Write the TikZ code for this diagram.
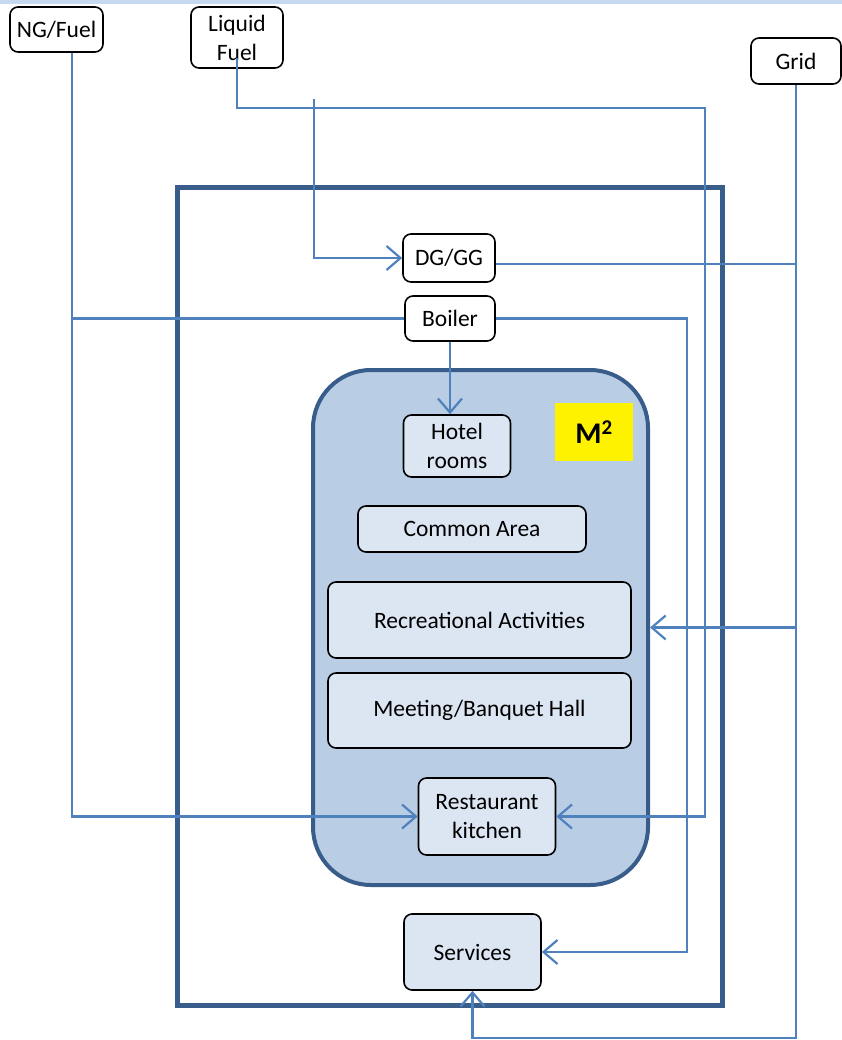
\documentclass[tikz,border=0pt]{standalone}
\usepackage{fontspec}
\setmainfont{Carlito}
\usetikzlibrary{arrows.meta}
\definecolor{conncol}{HTML}{4F81BD}
\definecolor{outercol}{HTML}{385D8A}
\definecolor{mfill}{HTML}{B9CDE5}
\definecolor{infill}{HTML}{DCE6F2}
\definecolor{topstrip}{HTML}{C6D9F1}
\tikzset{
  basebox/.style={draw=black, line width=1.6pt, rounded corners=8pt, inner sep=0pt, align=center,
    font=\fontsize{23.5}{29}\selectfont},
  srcbox/.style={basebox, fill=white},
  loadbox/.style={basebox, fill=infill},
  conn/.style={draw=conncol, line width=2.2pt},
  arr/.style={conn, -{Straight Barb[length=14pt,width=24pt]}},
}
\begin{document}
\begin{tikzpicture}[x=1pt,y=-1pt]
\useasboundingbox (0,0) rectangle (842,1040);
\fill[topstrip] (0,0) rectangle (842,4);
% outer frame
\draw[outercol, line width=5pt] (177,188) rectangle (722,1005);
% M2 area
\node[draw=outercol, fill=mfill, line width=4pt, rounded corners=58pt, minimum width=335pt, minimum height=515pt, inner sep=0pt] (m2box) at (480.5,627.5) {};
\node[fill=yellow, minimum width=78pt, minimum height=58pt, inner sep=0pt, font=\fontsize{30}{30}\selectfont\bfseries] (m2) at (594,432) {M\textsuperscript{2}};
% sources
\node[srcbox, minimum width=93pt, minimum height=45pt] (ng) at (56.5,29.5) {NG/Fuel};
\node[srcbox, minimum width=92pt, minimum height=61pt] (lf) at (237,37.5) {Liquid\\Fuel};
\node[srcbox, minimum width=90pt, minimum height=46pt] (grid) at (796,61) {Grid};
\node[srcbox, minimum width=92pt, minimum height=48pt] (dg) at (449,258) {DG/GG};
\node[srcbox, minimum width=90pt, minimum height=45pt] (boiler) at (450,318.5) {Boiler};
% loads
\node[loadbox, minimum width=107pt, minimum height=62pt] (hotel) at (457,446) {Hotel\\rooms};
\node[loadbox, minimum width=228pt, minimum height=46pt] (common) at (472,529) {Common Area};
\node[loadbox, minimum width=303pt, minimum height=76pt] (rec) at (479.5,620) {Recreational Activities};
\node[loadbox, minimum width=303pt, minimum height=75pt] (meet) at (479.5,710.5) {Meeting/Banquet Hall};
\node[loadbox, minimum width=137pt, minimum height=77pt] (rk) at (487,816.5) {Restaurant\\kitchen};
\node[loadbox, minimum width=137pt, minimum height=76pt] (serv) at (472.5,952) {Services};
% connectors
\coordinate (ngx) at ([xshift=15.5pt]ng.south);
\draw[arr] (ngx) |- (rk.west);
\draw[conn] (ngx |- boiler.west) -- (boiler.west);
\coordinate (lfs) at ([yshift=11pt]lf.south);
\coordinate (lfr) at (705,108);
\draw[arr] (lfs) |- (lfr) |- (rk.east);
\coordinate (dgs) at (314,99);
\draw[arr] (dgs) |- (dg.west);
\coordinate (dgr) at ([yshift=-6pt]dg.east);
\draw[conn] (dgr) -- (dgr -| grid.south);
\coordinate (bcorner) at (687,952);
\draw[arr] (boiler.east) -| (bcorner) -- (serv.east);
\draw[arr] (boiler.south) -- (boiler.south |- hotel.north);
\coordinate (gb) at (796,1038);
\draw[arr] (grid.south) -- (gb) -| (serv.south);
\draw[arr] (m2box.east -| grid.south) -- (m2box.east);
\end{tikzpicture}
\end{document}
